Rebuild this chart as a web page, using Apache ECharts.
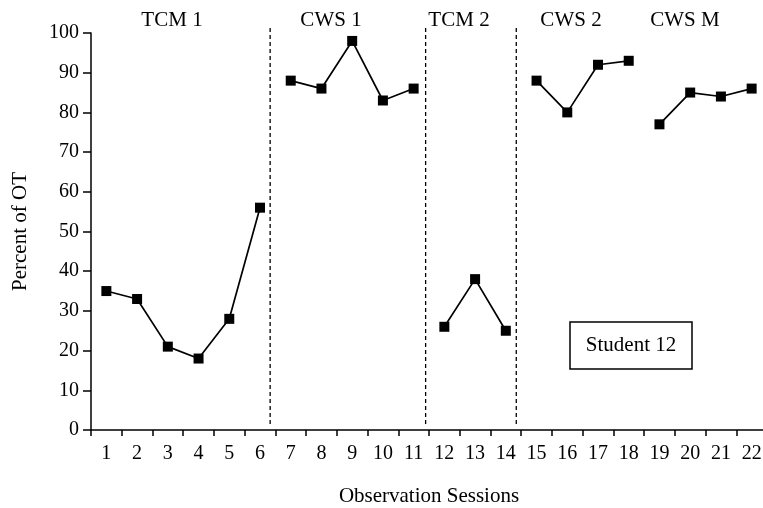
<!DOCTYPE html>
<html>
<head>
<meta charset="utf-8">
<script src="https://cdn.jsdelivr.net/npm/echarts@6/dist/echarts.min.js"></script>
<style>html,body{margin:0;padding:0;background:#fff}#c{width:763px;height:508px}</style>
</head>
<body>
<div id="c"></div>
<script>
var sessions = ['1','2','3','4','5','6','7','8','9','10','11','12','13','14','15','16','17','18','19','20','21','22'];
var percentOT = [35,33,21,18,28,56, 88,86,98,83,86, 26,38,25, 88,80,92,93, 77,85,84,86];
var phaseNames = ['TCM 1','CWS 1','TCM 2','CWS 2','CWS M'];
var phaseStarts = [0,6,11,14,18];   // index of first session in each phase
var phaseLineAt = [5.83, 10.89, 13.84]; // dashed phase-change lines (session-index space)
var yTicks = [0,10,20,30,40,50,60,70,80,90,100];

var FONT = '"Liberation Serif", "DejaVu Serif", serif';
var series = [];
for (var p = 0; p < phaseStarts.length; p++) {
  var s = phaseStarts[p], e = (p + 1 < phaseStarts.length) ? phaseStarts[p+1] : percentOT.length;
  var d = [];
  for (var i = s; i < e; i++) d.push([i, percentOT[i]]);
  series.push({
    type: 'line', name: phaseNames[p], xAxisIndex: 0, yAxisIndex: 0,
    data: d, symbol: 'rect', symbolSize: 10, showAllSymbol: true,
    itemStyle: {color: '#000'}, lineStyle: {color: '#000', width: 1.7},
    animation: false, z: 3
  });
}
phaseLineAt.forEach(function (x) {
  series.push({
    type: 'line', xAxisIndex: 1, yAxisIndex: 0, clip: false, symbol: 'none',
    data: [[x, 1.5], [x, 101.8]],
    lineStyle: {color: '#000', width: 1.3, type: [4, 3]}, animation: false, silent: true
  });
});

var chart = echarts.init(document.getElementById('c'));
chart.setOption({
  backgroundColor: '#fff',
  animation: false,
  grid: {left: 91, top: 33, width: 676, height: 397, containLabel: false, outerBoundsMode: 'none'},
  xAxis: [{
    type: 'category', data: sessions, boundaryGap: true,
    name: 'Observation Sessions', nameLocation: 'middle', nameGap: 56,
    nameTextStyle: {fontFamily: FONT, fontSize: 21, color: '#000'},
    axisLine: {lineStyle: {color: '#000', width: 1.5}},
    axisTick: {show: true, inside: false, length: 6, interval: 0, alignWithLabel: false, lineStyle: {color: '#000', width: 1.5}},
    axisLabel: {interval: 0, margin: 14, fontFamily: FONT, fontSize: 20, color: '#000'},
    splitLine: {show: false}
  }, {
    type: 'value', min: 0, max: 22, show: false
  }],
  yAxis: [{
    type: 'value', min: yTicks[0], max: yTicks[yTicks.length-1], interval: 10,
    name: 'Percent of OT', nameLocation: 'middle', nameGap: 60, nameRotate: 90,
    nameTextStyle: {fontFamily: FONT, fontSize: 21, color: '#000'},
    axisLine: {show: true, lineStyle: {color: '#000', width: 1.5}},
    axisTick: {show: true, length: 8, lineStyle: {color: '#000', width: 1.5}},
    axisLabel: {margin: 12, fontFamily: FONT, fontSize: 20, color: '#000'},
    splitLine: {show: false}
  }],
  graphic: [
    {type: 'text', x: 172, y: 20, style: {text: phaseNames[0], font: '21px ' + FONT, fill: '#000', align: 'center', verticalAlign: 'middle'}},
    {type: 'text', x: 331, y: 20, style: {text: phaseNames[1], font: '21px ' + FONT, fill: '#000', align: 'center', verticalAlign: 'middle'}},
    {type: 'text', x: 459, y: 20, style: {text: phaseNames[2], font: '21px ' + FONT, fill: '#000', align: 'center', verticalAlign: 'middle'}},
    {type: 'text', x: 571, y: 20, style: {text: phaseNames[3], font: '21px ' + FONT, fill: '#000', align: 'center', verticalAlign: 'middle'}},
    {type: 'text', x: 685, y: 20, style: {text: phaseNames[4], font: '21px ' + FONT, fill: '#000', align: 'center', verticalAlign: 'middle'}},
    {type: 'rect', shape: {x: 570, y: 322, width: 122, height: 47}, style: {fill: '#fff', stroke: '#000', lineWidth: 1.5}},
    {type: 'text', x: 631, y: 345, style: {text: 'Student 12', font: '21px ' + FONT, fill: '#000', align: 'center', verticalAlign: 'middle'}}
  ],
  series: series
});
</script>
</body>
</html>
